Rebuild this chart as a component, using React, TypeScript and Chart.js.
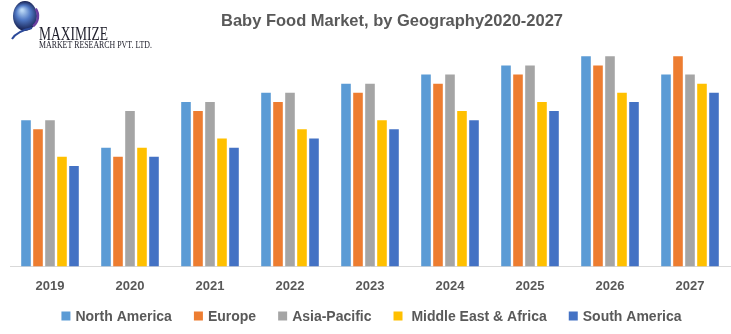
import React, { useEffect, useRef } from "react";
import { Chart, registerables } from "chart.js";

Chart.register(...registerables);

const years = ["2019", "2020", "2021", "2022", "2023", "2024", "2025", "2026", "2027"];
const northAmerica = [16, 13, 18, 19, 20, 21, 22, 23, 21];
const europe = [15, 12, 17, 18, 19, 20, 21, 22, 23];
const asiaPacific = [16, 17, 18, 19, 20, 21, 22, 23, 21];
const middleEastAfrica = [12, 13, 14, 15, 16, 17, 18, 19, 20];
const southAmerica = [11, 12, 13, 14, 15, 16, 17, 18, 19];
const seriesNames = ["North America", "Europe", "Asia-Pacific", " Middle East & Africa", "South America"];
const seriesColors = ["#5B9BD5", "#ED7D31", "#A5A5A5", "#FFC000", "#4472C4"];
const titleText = "Baby Food Market, by Geography2020-2027";
const logoName = "MAXIMIZE";
const logoSub = "MARKET RESEARCH PVT. LTD.";

const TEXT = "#595959";
const SANS = "'Liberation Sans', Arial, sans-serif";

const decorPlugin = {
  id: "decor",
  afterDraw(chart: any) {
    const ctx = chart.ctx as CanvasRenderingContext2D;
    ctx.save();
    // title
    ctx.font = `bold 16.5px ${SANS}`;
    ctx.fillStyle = TEXT;
    ctx.textAlign = "center";
    ctx.textBaseline = "middle";
    ctx.fillText(titleText, 392, 21);

    // legend
    ctx.font = `bold 14px ${SANS}`;
    const box = 9;
    const gapBT = 5;
    const gapItems = 22;
    const items = chart.data.datasets.map((ds: any) => ({
      label: ds.label as string,
      color: ds.backgroundColor as string,
      w: ctx.measureText(ds.label).width,
    }));
    let total = 0;
    items.forEach((it: any, i: number) => {
      total += box + gapBT + it.w + (i > 0 ? gapItems : 0);
    });
    let x = 371.5 - total / 2;
    const ly = 316;
    ctx.textAlign = "left";
    items.forEach((it: any) => {
      ctx.fillStyle = it.color;
      ctx.fillRect(x, ly - 4.5, box, box);
      ctx.fillStyle = TEXT;
      ctx.fillText(it.label, x + box + gapBT, ly + 1);
      x += box + gapBT + it.w + gapItems;
    });

    // logo globe
    const g = ctx.createRadialGradient(22, 10, 1, 25, 16, 15);
    g.addColorStop(0, "#b9d7f5");
    g.addColorStop(0.45, "#4f78c4");
    g.addColorStop(1, "#141c4a");
    ctx.fillStyle = g;
    ctx.beginPath();
    ctx.ellipse(25, 16, 12, 15, 0, 0, Math.PI * 2);
    ctx.fill();
    ctx.strokeStyle = "#6a3fa0";
    ctx.lineWidth = 2.5;
    ctx.beginPath();
    ctx.arc(25, 16, 13, -0.6, 0.9);
    ctx.stroke();
    ctx.strokeStyle = "#2c4a9a";
    ctx.lineWidth = 2;
    ctx.beginPath();
    ctx.moveTo(12, 39);
    ctx.quadraticCurveTo(17, 31, 32, 28);
    ctx.stroke();

    // logo text
    ctx.fillStyle = "#1e1e2a";
    ctx.textBaseline = "alphabetic";
    ctx.font = `18px 'Liberation Serif', 'Times New Roman', serif`;
    let w = ctx.measureText(logoName).width;
    ctx.save();
    ctx.translate(39, 39.5);
    ctx.scale(69 / w, 1);
    ctx.fillText(logoName, 0, 0);
    ctx.restore();
    ctx.font = `10.5px 'Liberation Serif', 'Times New Roman', serif`;
    w = ctx.measureText(logoSub).width;
    ctx.save();
    ctx.translate(39, 48);
    ctx.scale(113 / w, 1);
    ctx.fillText(logoSub, 0, 0);
    ctx.restore();
    ctx.restore();
  },
};

export default function App() {
  const ref = useRef<HTMLCanvasElement | null>(null);
  useEffect(() => {
    if (!ref.current) return;
    const values = [northAmerica, europe, asiaPacific, middleEastAfrica, southAmerica];
    const chart = new Chart(ref.current, {
      type: "bar",
      data: {
        labels: years,
        datasets: values.map((d, i) => ({
          label: seriesNames[i],
          data: d,
          backgroundColor: seriesColors[i],
          borderWidth: 0,
          categoryPercentage: 0.75,
          barPercentage: 0.8,
        })),
      },
      options: {
        responsive: false,
        animation: false,
        layout: { padding: { left: 10, right: 1, top: 38, bottom: 28 } },
        plugins: {
          legend: { display: false },
          title: { display: false },
          tooltip: { enabled: false },
        },
        scales: {
          x: {
            grid: { display: false, drawTicks: false },
            border: { display: true, color: "#D9D9D9", width: 1 },
            ticks: {
              color: TEXT,
              font: { family: SANS, size: 13, weight: "bold" },
              padding: 12,
              maxRotation: 0,
            },
          },
          y: {
            display: false,
            min: 0,
            max: 25,
          },
        },
      },
      plugins: [decorPlugin],
    });
    return () => chart.destroy();
  }, []);
  return (
    <div style={{ position: "absolute", left: 0, top: 0, width: 731, height: 334, background: "#fff" }}>
      <canvas ref={ref} width={731} height={334} style={{ width: 731, height: 334, display: "block" }} />
    </div>
  );
}
